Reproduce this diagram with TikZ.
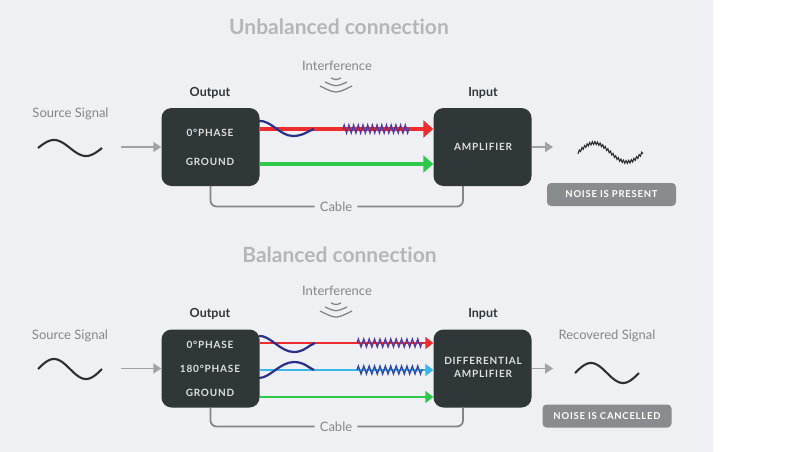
\documentclass[tikz,border=0pt]{standalone}
\usepackage{fontspec}
\setmainfont[Ligatures=NoCommon]{Lato}
\newcommand\capsbold{\bfseries\addfontfeature{LetterSpace=8}}
\usetikzlibrary{arrows.meta,decorations.pathmorphing,positioning}
\definecolor{bgray}{HTML}{EEF0F4}
\definecolor{boxdark}{HTML}{2F3739}
\definecolor{titlegray}{HTML}{B4B6B9}
\definecolor{labelgray}{HTML}{84878A}
\definecolor{arrowgray}{HTML}{A0A3A6}
\definecolor{wirered}{HTML}{EE2E2E}
\definecolor{wiregreen}{HTML}{2FC84A}
\definecolor{wirecyan}{HTML}{3AB6E8}
\definecolor{wireblue}{HTML}{2B2F8C}
\definecolor{noisepurple}{HTML}{57389A}
\definecolor{noiseblue}{HTML}{2E47A0}
\definecolor{badgegray}{HTML}{898C8F}
\definecolor{wavedark}{HTML}{2B3032}

\tikzset{
  devbox/.style={fill=boxdark, rounded corners=10pt, minimum width=98pt, minimum height=78pt},
  boxtext/.style={text=white!88!black, font=\fontsize{10}{13}\selectfont\capsbold, align=center},
  headtitle/.style={text=titlegray, font=\bfseries\fontsize{21}{23}\selectfont},
  sigtext/.style={text=labelgray, font=\fontsize{13}{15}\selectfont},
  boxhead/.style={text=boxdark, font=\bfseries\fontsize{12.5}{14}\selectfont},
  badge/.style={fill=badgegray, rounded corners=4pt, text=white, font=\fontsize{9.5}{10}\selectfont\capsbold, minimum width=129pt, minimum height=23pt, inner sep=0pt},
  feed/.style={draw=arrowgray, line width=1.8pt, -{Triangle[length=8pt,width=10pt]}},
  wire/.style={line width=3.5pt, -{Triangle[length=10pt,width=17pt]}},
  wirethin/.style={line width=2.6pt, -{Triangle[length=8pt,width=12pt]}},
  noise/.style={decorate, decoration={zigzag, segment length=4.7pt, amplitude=4pt}, noisepurple, line width=1.3pt},
  twist/.style={wireblue, line width=2.2pt},
  cable/.style={draw=labelgray, line width=1.8pt, rounded corners=6pt},
  wave/.style={wavedark, line width=2.1pt},
  ripple/.style={labelgray, line width=1.3pt},
}

\begin{document}
\begin{tikzpicture}[x=1pt, y=-1pt]
  \useasboundingbox (0,0) rectangle (800,452);
  \fill[bgray] (0,0) rectangle (713,452);

  % несимметричное подключение
  \node[headtitle] (ttlA) at (339,27) {Unbalanced connection};
  \node[sigtext] (intA) at (337,66) {Interference};
  \draw[ripple] (331,78) .. controls (336,80) .. (341,78);
  \draw[ripple] (325,82) .. controls (336,87) .. (347,82);
  \draw[ripple] (320,86) .. controls (336,94) .. (352,86);

  \node[devbox] (outA) at (210.5,147) {};
  \node[devbox] (inA) at (482.5,147) {};
  \node[boxhead] (outAhd) at (210,93) {Output};
  \node[boxhead] (inAhd) at (483,93) {Input};
  \node[boxtext] (phA) at (210,133) {0°PHASE};
  \node[boxtext] (gndA) at (210,162) {GROUND};
  \node[boxtext] (ampA) at (483,147) {AMPLIFIER};

  \node[sigtext] (srcAtxt) at (70.5,114) {Source Signal};
  \draw[wave] plot[domain=0:360, samples=60, smooth] ({38+\x/360*64},{148-8*sin(\x)});
  \coordinate (feedA) at (121,147);
  \draw[feed] (feedA) -- (outA.west);
  \coordinate (sinkA) at (553,147);
  \draw[feed] (inA.east) -- (sinkA);

  % провода
  \coordinate (rowA1) at (0,129);
  \coordinate (rowA2) at (0,164);
  \draw[wire, wirered] (outA.east |- rowA1) -- (inA.west |- rowA1);
  \draw[wire, wiregreen] (outA.east |- rowA2) -- (inA.west |- rowA2);
  \draw[twist] (259,121) .. controls (271,120) and (280,136) .. (293,136)
    .. controls (303,136) and (308,131) .. (314,129);
  \draw[noise] (343,129) -- (409,129);

  % кабель
  \node[sigtext, inner sep=5pt] (cabA) at (336,206.5) {Cable};
  \coordinate (cabAin) at (inA.south -| 463,0);
  \draw[cable] (outA.south) |- (cabA.west);
  \draw[cable] (cabA.east) -| (cabAin);

  \draw[wave, line width=1.1pt, line join=miter] plot[domain=0:360, samples=51] ({578+\x/360*65},{152.5-9.5*sin(\x)+1.4*cos(25*\x)});
  \node[badge] (noiseA) at (611.5,194.5) {NOISE IS PRESENT};

  % симметричное подключение
  \node[headtitle] (ttlB) at (339.5,254.5) {Balanced connection};
  \node[sigtext] (intB) at (337,291) {Interference};
  \draw[ripple] (331,303) .. controls (336,305) .. (341,303);
  \draw[ripple] (325,307) .. controls (336,312) .. (347,307);
  \draw[ripple] (320,311) .. controls (336,319) .. (352,311);

  \node[devbox] (outB) at (210.5,368.5) {};
  \node[devbox] (inB) at (482.5,368.5) {};
  \node[boxhead] (outBhd) at (210,314) {Output};
  \node[boxhead] (inBhd) at (483,314) {Input};
  \node[boxtext] (phB1) at (210,345) {0°PHASE};
  \node[boxtext] (phB2) at (210,369) {180°PHASE};
  \node[boxtext] (gndB) at (210,393) {GROUND};
  \node[boxtext] (ampB) at (483,367.5) {DIFFERENTIAL\\AMPLIFIER};

  \node[sigtext] (srcBtxt) at (70,336) {Source Signal};
  \draw[wave] plot[domain=0:360, samples=60, smooth] ({38+\x/360*64},{369-10*sin(\x)});
  \coordinate (feedB) at (121,368.5);
  \draw[feed] (feedB) -- (outB.west);
  \coordinate (sinkB) at (553,368.5);
  \draw[feed] (inB.east) -- (sinkB);

  % провода
  \coordinate (rowB1) at (0,343);
  \coordinate (rowB2) at (0,370);
  \coordinate (rowB3) at (0,397);
  \draw[wirethin, wirered] (outB.east |- rowB1) -- (inB.west |- rowB1);
  \draw[wirethin, wirecyan] (outB.east |- rowB2) -- (inB.west |- rowB2);
  \draw[wirethin, wiregreen] (outB.east |- rowB3) -- (inB.west |- rowB3);
  \draw[twist] (259,336) .. controls (270,335) and (280,352) .. (294,352)
    .. controls (304,352) and (309,345) .. (315,343);
  \draw[twist] (259,378) .. controls (270,378) and (280,362) .. (294,362)
    .. controls (304,362) and (309,368) .. (314,370);
  \draw[noise, decoration={segment length=5.4pt}] (357,343) -- (423,343);
  \draw[noise, noiseblue, decoration={segment length=5.4pt}] (357,370) -- (423,370);

  % кабель
  \node[sigtext, inner sep=5pt] (cabB) at (336,426.5) {Cable};
  \coordinate (cabBin) at (inB.south -| 463,0);
  \draw[cable] (outB.south) |- (cabB.west);
  \draw[cable] (cabB.east) -| (cabBin);

  \node[sigtext] (recBtxt) at (607,336) {Recovered Signal};
  \draw[wave] plot[domain=0:360, samples=60, smooth] ({575+\x/360*64},{373-10*sin(\x)});
  \node[badge] (noiseB) at (607,416) {NOISE IS CANCELLED};
\end{tikzpicture}
\end{document}
